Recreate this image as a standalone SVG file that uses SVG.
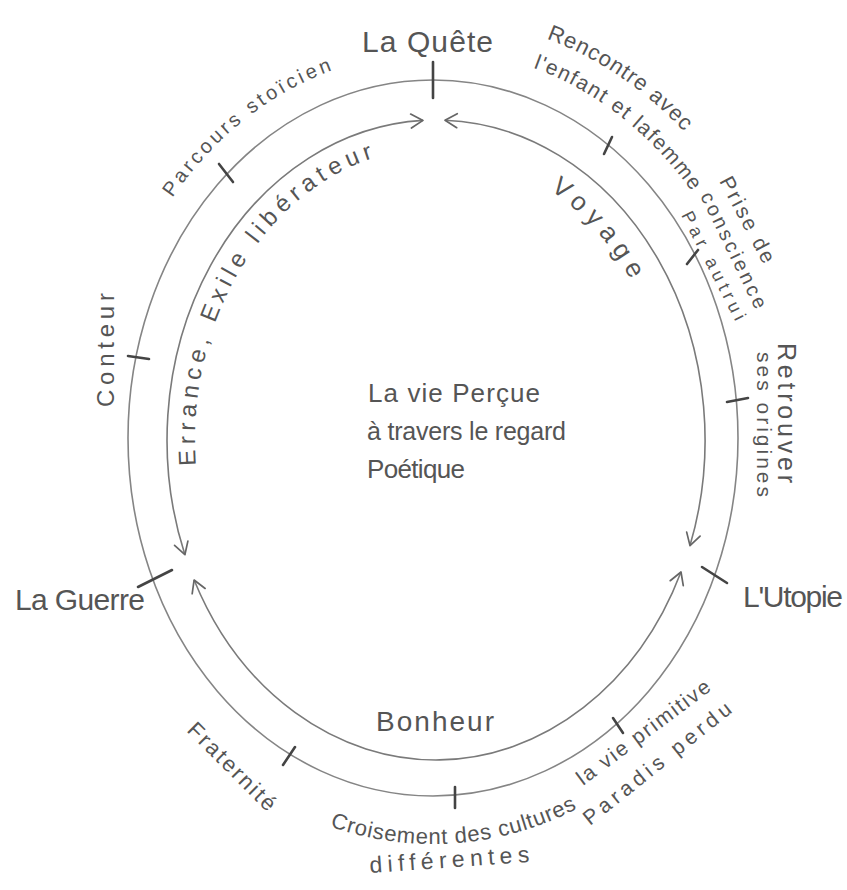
<svg xmlns="http://www.w3.org/2000/svg" width="847" height="890" viewBox="0 0 847 890">
  <style>
    .t { font-family: "Liberation Sans", "DejaVu Sans", sans-serif; fill: #555; }
    .ring { fill: none; stroke: #858585; stroke-width: 1.6; }
    .tick { stroke: #444; stroke-width: 2.6; stroke-linecap: round; }
    .arc { fill: none; stroke: #7a7a7a; stroke-width: 1.6; marker-start: url(#chev); marker-end: url(#chev); }
  </style>
  <defs>
    <marker id="chev" viewBox="-15 -9 17 18" refX="0" refY="0" markerWidth="17" markerHeight="18" markerUnits="userSpaceOnUse" orient="auto-start-reverse">
      <path d="M-12,-7 L0,0 L-12,7" fill="none" stroke="#666" stroke-width="1.7" stroke-linecap="round" stroke-linejoin="round"/>
    </marker>
    <path id="pParcours" d="M172.4,197.7 A333,386 0 0 1 404,53.5"/>
    <path id="pRencontre" d="M546.4,38.6 A367,420 0 0 1 733.6,197.1"/>
    <path id="pEnfant" d="M533.2,67.7 A335,388 0 0 1 723.1,244"/>
    <path id="pErrance" d="M195.9,465.4 A241,292 0 0 1 415,149.1"/>
    <path id="pVoyage" d="M549.9,189.9 A235,286 0 0 1 663,366"/>
    <path id="pCroisement" d="M329.8,826.3 A353,406 0 0 0 635.5,770.6"/>
  </defs>
  <rect width="847" height="890" fill="#ffffff"/>

  <g id="outer-ring">
    <ellipse class="ring" cx="433" cy="438" rx="305" ry="358"/>
  </g>

  <g id="connectors">
    <path id="arc-errance" class="arc" d="M423,120.4 A269,320 0 0 0 184.9,554.7"/>
    <path id="arc-voyage" class="arc" d="M445,120.2 A269,320 0 0 1 690,545.6"/>
    <path id="arc-bonheur" class="arc" d="M194.1,580 A269,320 0 0 0 681,572"/>
    <text class="t" font-size="24" letter-spacing="5.2"><textPath href="#pErrance">Errance, Exile libérateur</textPath></text>
    <text class="t" font-size="26" letter-spacing="7"><textPath href="#pVoyage">Voyage</textPath></text>
    <text class="t" x="376" y="731" font-size="28" textLength="118" lengthAdjust="spacing">Bonheur</text>
  </g>

  <g id="node-la-quete">
    <line class="tick" x1="433" y1="62" x2="433" y2="98"/>
    <text class="t" x="362" y="52" font-size="30" textLength="131" lengthAdjust="spacing">La Quête</text>
  </g>

  <g id="node-rencontre">
    <line class="tick" x1="604" y1="154" x2="612" y2="137"/>
    <text class="t" font-size="22" letter-spacing="1"><textPath href="#pRencontre">Rencontre avec</textPath></text>
    <text class="t" font-size="21" letter-spacing="1.5"><textPath href="#pEnfant">l'enfant et lafemme</textPath></text>
  </g>

  <g id="node-prise-de-conscience">
    <line class="tick" x1="687" y1="264" x2="698" y2="250"/>
    <text class="t" font-size="21" transform="translate(719,181) rotate(62)" textLength="95" lengthAdjust="spacing">Prise de</text>
    <text class="t" font-size="20" transform="translate(700,196) rotate(64)" textLength="127" lengthAdjust="spacing">conscience</text>
    <text class="t" font-size="18" transform="translate(681,215) rotate(63)" textLength="120" lengthAdjust="spacing">Par autrui</text>
  </g>

  <g id="node-retrouver">
    <line class="tick" x1="727" y1="402" x2="748" y2="398"/>
    <text class="t" font-size="25" transform="translate(778,343) rotate(90)" textLength="140" lengthAdjust="spacing">Retrouver</text>
    <text class="t" font-size="21" transform="translate(757,352) rotate(90)" textLength="145" lengthAdjust="spacing">ses origines</text>
  </g>

  <g id="node-utopie">
    <line class="tick" x1="702" y1="567" x2="727" y2="583"/>
    <text class="t" x="743" y="607" font-size="30" textLength="100" lengthAdjust="spacing">L'Utopie</text>
  </g>

  <g id="node-vie-primitive">
    <line class="tick" x1="613" y1="718" x2="623" y2="733"/>
    <text class="t" font-size="21" transform="translate(583,786) rotate(-36.7)" textLength="161" lengthAdjust="spacing">la vie primitive</text>
    <text class="t" font-size="21" transform="translate(590,826) rotate(-38.6)" textLength="183" lengthAdjust="spacing">Paradis perdu</text>
  </g>

  <g id="node-croisement">
    <line class="tick" x1="455" y1="787" x2="455" y2="808"/>
    <text class="t" font-size="22" letter-spacing="0.8"><textPath href="#pCroisement">Croisement des cultures</textPath></text>
    <text class="t" font-size="23" transform="translate(370,873) rotate(-4)" textLength="160" lengthAdjust="spacing">différentes</text>
  </g>

  <g id="node-fraternite">
    <line class="tick" x1="283" y1="765" x2="295" y2="747"/>
    <text class="t" font-size="22" transform="translate(186,731) rotate(45)" textLength="115" lengthAdjust="spacing">Fraternité</text>
  </g>

  <g id="node-la-guerre">
    <line class="tick" x1="138" y1="587" x2="172" y2="570"/>
    <text class="t" x="15" y="610" font-size="30" textLength="130" lengthAdjust="spacing">La Guerre</text>
  </g>

  <g id="node-conteur">
    <line class="tick" x1="128" y1="356" x2="149" y2="359"/>
    <text class="t" font-size="24" transform="translate(114,407) rotate(-90)" textLength="114" lengthAdjust="spacing">Conteur</text>
  </g>

  <g id="node-parcours">
    <line class="tick" x1="219" y1="164" x2="233" y2="182"/>
    <text class="t" font-size="20" letter-spacing="3.3"><textPath href="#pParcours">Parcours stoïcien</textPath></text>
  </g>

  <g id="node-centre">
    <text class="t" x="368" y="402" font-size="26" textLength="172" lengthAdjust="spacing">La vie Perçue</text>
    <text class="t" x="367" y="440" font-size="25" textLength="199" lengthAdjust="spacing">à travers le regard</text>
    <text class="t" x="367" y="478" font-size="26" textLength="98" lengthAdjust="spacing">Poétique</text>
  </g>
</svg>
